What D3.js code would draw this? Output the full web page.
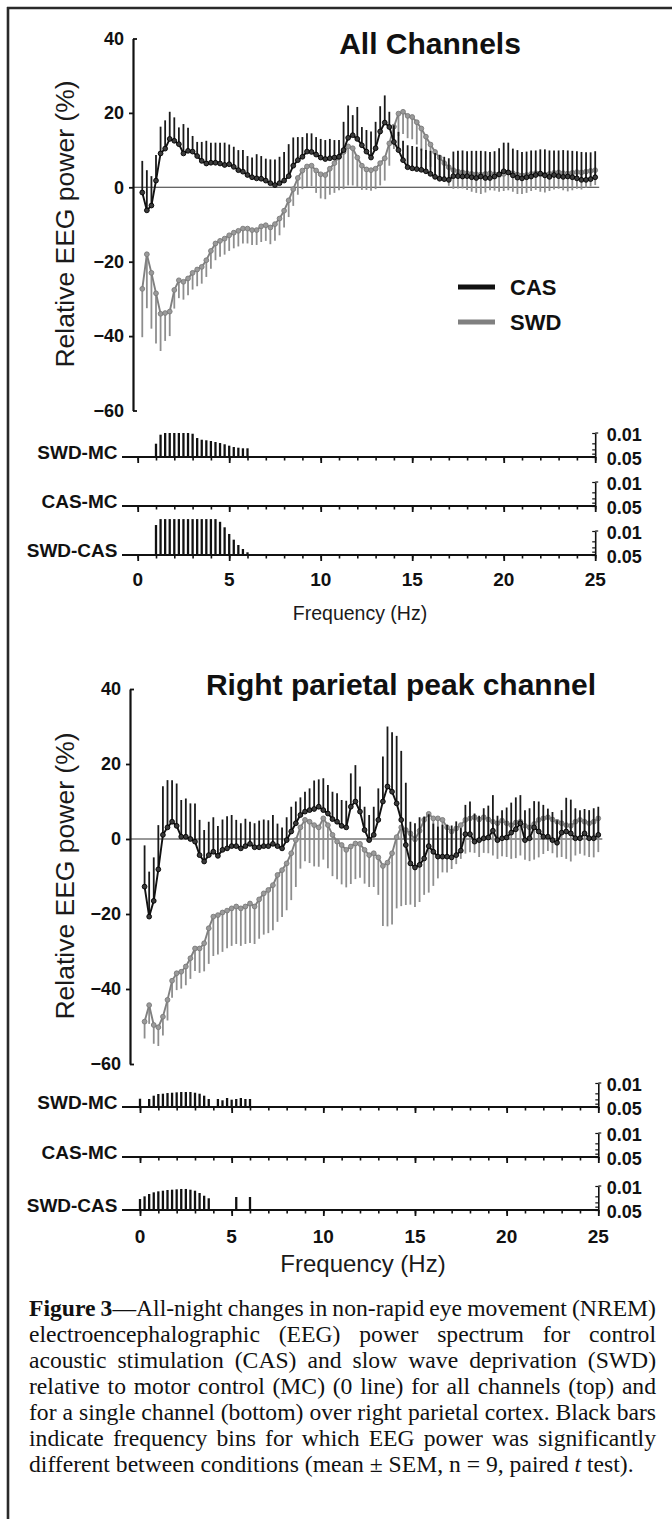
<!DOCTYPE html>
<html><head><meta charset="utf-8">
<script src="https://cdn.jsdelivr.net/npm/d3@7"></script>
<style>html,body{margin:0;padding:0;background:#fff}svg{display:block}</style>
</head><body>
<svg id="c" width="672" height="1519"></svg>
<script>
// ---------------- DATA ----------------
const freqs = [0.25,0.5,0.75,1,1.25,1.5,1.75,2,2.25,2.5,2.75,3,3.25,3.5,3.75,4,4.25,4.5,4.75,5,5.25,5.5,5.75,6,6.25,6.5,6.75,7,7.25,7.5,7.75,8,8.25,8.5,8.75,9,9.25,9.5,9.75,10,10.25,10.5,10.75,11,11.25,11.5,11.75,12,12.25,12.5,12.75,13,13.25,13.5,13.75,14,14.25,14.5,14.75,15,15.25,15.5,15.75,16,16.25,16.5,16.75,17,17.25,17.5,17.75,18,18.25,18.5,18.75,19,19.25,19.5,19.75,20,20.25,20.5,20.75,21,21.25,21.5,21.75,22,22.25,22.5,22.75,23,23.25,23.5,23.75,24,24.25,24.5,24.75,25];

// All channels
const topCASMean = [-1.4,-6.2,-4.9,1.8,9.1,10.4,13.0,12.5,11.6,9.1,9.8,9.6,8.4,7.1,6.4,6.6,6.6,6.4,6.0,6.2,5.5,4.6,4.2,3.3,2.7,2.4,2.3,1.8,1.1,0.6,1.1,1.8,3.0,5.8,7.3,8.2,9.6,9.5,8.8,8.0,7.6,7.8,8.0,8.2,10.0,13.3,14.0,13.0,11.3,9.6,8.0,10.5,15.0,17.4,16.2,12.2,10.0,7.3,5.4,5.1,4.9,4.7,4.3,3.6,2.8,2.3,2.2,2.0,3.0,3.0,2.9,3.0,2.7,2.5,2.9,2.5,2.5,2.9,3.5,4.3,4.0,3.2,2.6,2.4,2.7,2.9,3.3,3.7,3.2,2.8,3.3,3.0,2.8,2.9,2.7,2.4,2.0,2.0,2.2,2.7];
const topCASSem = [8.5,10.8,7.9,6.9,7.2,7.6,7.3,6.3,4.5,7.9,6.2,4.2,3.8,5.1,6.1,5.4,5.4,5.6,6.0,5.3,5.4,5.4,5.8,5.1,5.3,6.5,6.1,5.9,6.4,6.9,7.1,7.7,8.6,7.6,6.2,5.3,4.9,5.0,4.7,5.0,5.1,5.2,4.7,4.5,7.6,8.7,5.4,8.6,4.9,5.8,7.0,7.1,6.8,7.3,4.1,4.5,4.9,5.2,5.9,6.0,6.0,5.7,5.7,6.2,6.4,6.4,6.0,5.8,6.6,6.8,7.0,6.7,7.1,7.3,6.9,7.2,7.0,6.8,7.0,7.7,8.0,7.2,7.4,7.1,6.9,7.0,6.6,6.5,7.0,7.1,6.6,6.9,7.2,7.0,7.1,7.3,7.5,7.4,7.2,7.0];
const topSWDMean = [-27.3,-18.0,-23.0,-28.5,-34.0,-33.8,-33.4,-27.6,-25.0,-25.4,-24.5,-23.0,-22.1,-21.4,-19.6,-17.1,-15.1,-14.4,-13.8,-12.9,-12.2,-11.7,-11.1,-11.1,-11.5,-11.5,-10.5,-10.2,-10.8,-9.9,-8.4,-6.3,-3.5,-0.5,2.5,4.5,5.6,5.8,4.5,3.5,3.3,5.0,6.5,8.2,9.5,11.0,10.5,8.0,5.8,4.8,4.6,5.0,6.5,7.8,11.8,16.3,19.8,20.3,19.2,18.9,17.5,15.8,13.6,11.5,9.5,8.0,6.5,5.4,4.6,4.2,4.0,3.8,3.6,3.5,3.4,3.6,3.8,3.5,3.3,3.6,4.0,3.8,3.4,3.2,3.3,3.6,3.8,3.5,3.4,3.6,3.9,4.0,3.8,3.7,3.9,4.1,4.0,4.2,4.4,4.6];
const topSWDSem = [13,14.5,15,13.5,10,7.5,6.6,5,4.8,4.8,4.5,4.5,4.5,4.5,4.5,4.8,4.5,4.3,4.3,4.2,4.2,4.2,4.0,4.0,4.0,4.0,4.2,4.2,4.5,4.5,4.5,4.5,4.5,4.5,4.5,5.0,5.5,5.5,6,6.5,6.5,7,8,9,10,10.5,10,8,6.5,5.5,5.5,5.5,6,6,6,6,6,6,6,6,6,6,6,6,5.5,5.5,5,5,5,4.5,4.3,4.5,4.8,5.0,5.2,5.0,4.6,4.4,4.5,4.6,4.8,5.0,5.2,5.0,4.8,4.6,4.5,4.7,4.8,4.6,4.5,4.4,4.6,4.8,4.7,4.5,4.6,4.4,4.2,4.0];

// Right parietal peak channel
const botCASMean = [-12.7,-20.7,-16.5,-8.1,1.1,3.1,4.6,3.5,0.6,0.6,0.0,-0.7,-4.3,-6.0,-4.3,-3.4,-4.5,-2.9,-2.5,-1.9,-1.9,-2.5,-1.9,-1.3,-2.2,-2.2,-1.9,-1.9,-1.3,-1.9,-2.5,-0.3,2.0,4.2,6.4,7.3,7.7,8.0,8.6,7.7,6.8,5.3,4.6,3.5,3.1,8.6,10.0,7.3,2.4,-0.3,1.1,5.1,10.0,14.0,12.6,9.5,5.1,-1.6,-6.5,-7.6,-6.9,-5.2,-1.9,-3.4,-4.7,-4.7,-4.7,-4.9,-4.3,-3.1,1.3,1.3,-0.7,-0.3,0.2,0.4,2.2,-0.3,0.2,0.4,1.7,2.6,4.2,-0.3,0.2,3.1,2.0,0.6,0.6,-0.3,-1.0,1.7,2.0,1.5,0.2,0.2,1.5,0.2,0.2,1.1];
const botCASSem = [11,12,11.6,11.8,13,12.6,11.1,11.3,9.8,10.2,9.5,10.2,9.4,8.4,8.9,9.2,8.0,8.1,8.6,8.3,7.0,6.7,7.3,5.9,6.4,7.1,7.1,6.9,7.7,6.0,5.6,6.1,6.6,5.8,4.7,5.3,5.8,7.6,7.3,8.5,7.6,7.3,7.6,6.9,7.1,8.9,9.7,6.7,6.2,6.7,7.5,8.4,12,16,15.9,18,18.4,16.6,11.1,11.8,12.7,11.2,8.5,7.5,8,8.5,8.5,8.5,9,6,7.8,8.7,7.5,6.5,8,8.5,9.5,6.5,7.5,8,8,8.5,7.5,8,8,7,8,8.5,7.5,7.5,6,6,9,9,8,7.5,6.5,7.5,8,7.5];
const botSWDMean = [-48.7,-44.3,-49.6,-50.2,-47.4,-42.9,-37.8,-35.8,-35.4,-34.0,-31.8,-29.2,-29.2,-27.8,-23.8,-20.7,-20.3,-19.6,-19.1,-18.5,-18.0,-18.5,-18.0,-17.2,-18.0,-16.1,-14.5,-13.6,-12.3,-9.6,-8.3,-6.5,-3.8,-0.3,3.1,5.1,4.6,3.7,3.1,5.5,3.7,1.1,-0.7,-1.6,-2.9,-2.0,-1.2,-1.3,-2.9,-4.3,-3.8,-4.9,-7.2,-6.3,-3.8,0.5,3.1,2.4,1.5,-0.1,2.2,5.1,6.7,5.5,5.5,5.1,3.1,2.0,2.8,3.7,5.1,5.5,5.8,5.2,5.8,5.2,4.6,4.2,4.9,4.2,3.7,4.4,4.6,3.5,3.1,4.0,5.1,5.5,5.8,5.2,4.6,4.2,3.7,3.5,4.6,5.1,4.6,4.2,4.6,5.5];
const botSWDSem = [4.5,5,5,5,5,5.5,4.5,4.5,4.5,5,5.5,6,6.5,7.5,9.5,10.5,10.5,10.5,10,10,10,10,10,10.5,10,10.5,11,11.5,12,12.5,12.5,12.5,12.5,12.5,11,11,11,11,10.5,11,11.5,11,10,10.5,10,10,9.5,9,9,8.5,9,10,16,17,19,19,21,20,19,18,19,20,21,18,16,14,12,10,9.5,9,9,9,9.5,10,9.5,9,9,9.5,9.5,9,9,9.5,9,9,9,9.5,10,9.5,9,9,9.5,9,9,9.5,9,9,9,9,9.5,9];

// Significance (p-values per frequency bin)
const topSWDMC_f = [1,1.25,1.5,1.75,2,2.25,2.5,2.75,3,3.25,3.5,3.75,4,4.25,4.5,4.75,5,5.25,5.5,5.75,6];
const topSWDMC_p = [0.0205,0.0112,0.0100,0.0100,0.0100,0.0100,0.0100,0.0100,0.0105,0.0140,0.0157,0.0163,0.0171,0.0183,0.0196,0.0213,0.0234,0.0256,0.0268,0.0279,0.0279];
const topCASMC_f = [];
const topCASMC_p = [];
const topSWDCAS_f = [1,1.25,1.5,1.75,2,2.25,2.5,2.75,3,3.25,3.5,3.75,4,4.25,4.5,4.75,5,5.25,5.5,5.75,6];
const topSWDCAS_p = [0.0067,0.0045,0.0045,0.0045,0.0045,0.0045,0.0045,0.0045,0.0045,0.0045,0.0045,0.0045,0.0045,0.0045,0.0054,0.0078,0.0122,0.0179,0.0256,0.0334,0.0417];
const botSWDMC_f = [0,0.5,0.75,1,1.25,1.5,1.75,2,2.25,2.5,2.75,3,3.25,3.5,3.75,4.25,4.5,4.75,5,5.25,5.5,5.75,6];
const botSWDMC_p = [0.0287,0.0292,0.0234,0.0209,0.0205,0.0196,0.0192,0.0187,0.0183,0.0183,0.0183,0.0192,0.0205,0.0234,0.0292,0.0292,0.0319,0.0273,0.0306,0.0292,0.0273,0.0292,0.0292];
const botCASMC_f = [];
const botCASMC_p = [];
const botSWDCAS_f = [0,0.25,0.5,0.75,1,1.25,1.5,1.75,2,2.25,2.5,2.75,3,3.25,3.5,3.75,5.25,6];
const botSWDCAS_p = [0.0239,0.0200,0.0171,0.0153,0.0143,0.0137,0.0131,0.0128,0.0125,0.0122,0.0122,0.0128,0.0137,0.0160,0.0192,0.0228,0.0209,0.0209];

const yTicks = [40,20,0,-20,-40,-60];
const xTicks = [0,5,10,15,20,25];
const sigLabels = ["SWD-MC","CAS-MC","SWD-CAS"];
const pLabels = ["0.01","0.05"];
const legendLabels = ["CAS","SWD"];
const titles = ["All Channels","Right parietal peak channel"];
const yLabel = "Relative EEG power (%)";
const xLabel = "Frequency (Hz)";
const captionLines = [
 "**Figure 3**\u2014All-night changes in non-rapid eye movement (NREM)",
 "electroencephalographic (EEG) power spectrum for control",
 "acoustic stimulation (CAS) and slow wave deprivation (SWD)",
 "relative to motor control (MC) (0 line) for all channels (top) and",
 "for a single channel (bottom) over right parietal cortex. Black bars",
 "indicate frequency bins for which EEG power was significantly",
 "different between conditions (mean \u00b1 SEM, n = 9, paired _t_ test)."
];

// ---------------- DRAW ----------------
const svg = d3.select("#c");
const SANS = "'Liberation Sans', Arial, Helvetica, sans-serif";
const SERIF = "'Liberation Serif', 'Times New Roman', Times, serif";
const BLK = "#111";
const GRY = "#808080";
const GRYBAR = "#8e8e8e";
const fmt = d => d < 0 ? "\u2212" + Math.abs(d) : String(d);

// frame
svg.append("line").attr("x1",8).attr("x2",8).attr("y1",7).attr("y2",1519).attr("stroke","#2a2a2a").attr("stroke-width",2.6);
svg.append("line").attr("x1",7).attr("x2",672).attr("y1",8).attr("y2",8).attr("stroke","#2a2a2a").attr("stroke-width",2.6);

const charts = [
 { title:titles[0], titleX:430, titleY:54, xRange:[137.7,595.2], yRange:[410.5,38.5], axisX:133,
   cas:topCASMean, casSem:topCASSem, swd:topSWDMean, swdSem:topSWDSem, ylabCY:224,
   bases:[457,506,555], sig:[[topSWDMC_f,topSWDMC_p],[topCASMC_f,topCASMC_p],[topSWDCAS_f,topSWDCAS_p]],
   tickDy:31, xlabX:360, xlabY:620, xlabSize:19.5, legend:true },
 { title:titles[1], titleX:401, titleY:695, xRange:[140,598.3], yRange:[1064,689], axisX:130,
   cas:botCASMean, casSem:botCASSem, swd:botSWDMean, swdSem:botSWDSem, ylabCY:876,
   bases:[1107,1157,1210], sig:[[botSWDMC_f,botSWDMC_p],[botCASMC_f,botCASMC_p],[botSWDCAS_f,botSWDCAS_p]],
   tickDy:33, xlabX:363, xlabY:1272, xlabSize:24, legend:false }
];

charts.forEach(c => {
  const g = svg.append("g");
  const x = d3.scaleLinear().domain([0,25]).range(c.xRange);
  const y = d3.scaleLinear().domain([-60,40]).range(c.yRange);

  // zero line
  g.append("line").attr("x1",c.axisX).attr("x2",x(25)+4).attr("y1",y(0)).attr("y2",y(0))
    .attr("stroke","#333").attr("stroke-width",1.1);

  const series = [
    {m:c.swd, s:c.swdSem, dir:-1, line:GRY, bar:GRYBAR, fill:"#9a9a9a", stroke:"#7a7a7a"},
    {m:c.cas, s:c.casSem, dir:1, line:BLK, bar:"#1a1a1a", fill:"#3a3a3a", stroke:"#000"}
  ];
  series.forEach(sr => {
    const pts = freqs.map((f,i) => ({f, m:sr.m[i], s:sr.s[i]}));
    g.append("g").selectAll("line").data(pts).join("line")
      .attr("x1",d=>x(d.f)).attr("x2",d=>x(d.f))
      .attr("y1",d=>y(d.m)).attr("y2",d=>y(d.m + sr.dir*d.s))
      .attr("stroke",sr.bar).attr("stroke-width",1.8);
    g.append("path").datum(pts)
      .attr("d", d3.line().x(d=>x(d.f)).y(d=>y(d.m)))
      .attr("fill","none").attr("stroke",sr.line).attr("stroke-width",1.9);
    g.append("g").selectAll("circle").data(pts).join("circle")
      .attr("cx",d=>x(d.f)).attr("cy",d=>y(d.m)).attr("r",2.4)
      .attr("fill",sr.fill).attr("stroke",sr.stroke).attr("stroke-width",0.9);
  });

  // y axis
  const ax = g.append("g").attr("transform",`translate(${c.axisX},0)`)
    .call(d3.axisLeft(y).tickValues(yTicks).tickSize(4).tickSizeOuter(0).tickPadding(5).tickFormat(fmt));
  ax.select(".domain").attr("stroke",BLK).attr("stroke-width",2.2);
  ax.selectAll(".tick line").attr("stroke",BLK).attr("stroke-width",1.8);
  ax.selectAll(".tick").filter(d => d === yTicks[0] || d === yTicks[yTicks.length-1])
    .select("line").attr("x2",4);
  ax.selectAll(".tick text").attr("font-family",SANS).attr("font-weight","bold")
    .attr("font-size",18).attr("fill",BLK);

  // title
  g.append("text").attr("x",c.titleX).attr("y",c.titleY).attr("text-anchor","middle")
    .attr("font-family",SANS).attr("font-weight","bold").attr("font-size",30).attr("fill",BLK)
    .text(c.title);
  // y label
  g.append("text").attr("transform",`translate(74,${c.ylabCY}) rotate(-90)`).attr("text-anchor","middle")
    .attr("font-family",SANS).attr("font-size",26.5).attr("fill","#1a1a1a").text(yLabel);

  // legend
  if (c.legend) {
    const ly = [287, 322];
    const lc = [BLK, GRY];
    legendLabels.forEach((lab,i) => {
      g.append("line").attr("x1",458).attr("x2",495).attr("y1",ly[i]).attr("y2",ly[i])
        .attr("stroke",lc[i]).attr("stroke-width",5);
      g.append("text").attr("x",510).attr("y",ly[i]+8).attr("font-family",SANS).attr("font-weight","bold")
        .attr("font-size",22).attr("fill",BLK).text(lab);
    });
  }

  // significance panels
  c.bases.forEach((base,i) => {
    const py = d3.scaleLog().domain([0.05,0.01]).range([base, base-24]);
    const [fs, ps] = c.sig[i];
    g.append("g").selectAll("line").data(fs.map((f,j)=>({f, p:ps[j]}))).join("line")
      .attr("x1",d=>x(d.f)).attr("x2",d=>x(d.f)).attr("y1",base).attr("y2",d=>py(d.p))
      .attr("stroke",BLK).attr("stroke-width",2.3);
    g.append("line").attr("x1",122).attr("x2",x(25)).attr("y1",base).attr("y2",base)
      .attr("stroke",BLK).attr("stroke-width",2.2);
    const minor = g.append("g").attr("transform",`translate(0,${base})`)
      .call(d3.axisBottom(x).tickValues(d3.range(0,26,1)).tickSize(3.5).tickFormat(""));
    minor.select(".domain").remove();
    minor.selectAll(".tick line").attr("stroke",BLK).attr("stroke-width",1.6);
    const major = g.append("g").attr("transform",`translate(0,${base})`)
      .call(d3.axisBottom(x).tickValues(xTicks).tickSize(6).tickFormat(""));
    major.select(".domain").remove();
    major.selectAll(".tick line").attr("stroke",BLK).attr("stroke-width",1.8);
    // label
    g.append("text").attr("x",117.5).attr("y",base+2).attr("text-anchor","end")
      .attr("font-family",SANS).attr("font-weight","bold").attr("font-size",19).attr("fill",BLK)
      .text(sigLabels[i]);
    // p bracket
    const br = g.append("g").attr("transform",`translate(${x(25)},0)`)
      .call(d3.axisLeft(py).tickValues([0.05,0.04,0.03,0.02,0.01]).tickSize(3).tickSizeOuter(0).tickFormat(""));
    br.select(".domain").attr("stroke",BLK).attr("stroke-width",1.6);
    br.selectAll(".tick line").attr("stroke",BLK).attr("stroke-width",1.2);
    g.append("line").attr("x1",x(25)).attr("x2",x(25)+3).attr("y1",py(0.01)).attr("y2",py(0.01))
      .attr("stroke",BLK).attr("stroke-width",1.2);
    g.append("text").attr("x",606.7).attr("y",base-16).attr("font-family",SANS).attr("font-weight","bold")
      .attr("font-size",18).attr("fill",BLK).text(pLabels[0]);
    g.append("text").attr("x",606.7).attr("y",base+7.5).attr("font-family",SANS).attr("font-weight","bold")
      .attr("font-size",18).attr("fill",BLK).text(pLabels[1]);
  });

  // x tick labels under last panel
  const lastBase = c.bases[c.bases.length-1];
  g.append("g").selectAll("text").data(xTicks).join("text")
    .attr("x",d=>x(d)).attr("y",lastBase + c.tickDy).attr("text-anchor","middle")
    .attr("font-family",SANS).attr("font-weight","bold").attr("font-size",19).attr("fill",BLK)
    .text(d=>d);
  g.append("text").attr("x",c.xlabX).attr("y",c.xlabY).attr("text-anchor","middle")
    .attr("font-family",SANS).attr("font-size",c.xlabSize).attr("fill","#1a1a1a").text(xLabel);
});

// ---------------- CAPTION ----------------
function parseLine(s, st) {
  const words = []; let runs = []; let buf = "";
  const flush = () => { if (buf) { runs.push({t:buf, b:st.b, i:st.i}); buf = ""; } };
  let k = 0;
  while (k < s.length) {
    if (s.startsWith("**", k)) { flush(); st.b = !st.b; k += 2; continue; }
    if (s[k] === "_") { flush(); st.i = !st.i; k++; continue; }
    if (s[k] === " ") { flush(); if (runs.length) words.push(runs); runs = []; k++; continue; }
    buf += s[k]; k++;
  }
  flush(); if (runs.length) words.push(runs);
  return words;
}
const capG = svg.append("g");
function makeWord(runs, size) {
  const t = capG.append("text").attr("font-family",SERIF).attr("font-size",size).attr("fill","#111");
  runs.forEach(r => {
    t.append("tspan").attr("font-weight", r.b ? "bold" : "normal")
      .attr("font-style", r.i ? "italic" : "normal").text(r.t);
  });
  return t;
}
const st = {b:false, i:false};
const parsed = captionLines.map(l => parseLine(l, st));
// size so that the last (unjustified) line spans 605 px
const s0 = 23;
let tw = 0;
const lastWords = parsed[parsed.length-1];
lastWords.forEach(w => { const t = makeWord(w, s0); tw += t.node().getComputedTextLength(); t.remove(); });
tw += (lastWords.length - 1) * 0.25 * s0;
const capSize = s0 * 605 / tw;
const X0 = 29, W = 627;
parsed.forEach((words, li) => {
  const yy = 1316 + li * 26;
  const els = words.map(w => makeWord(w, capSize));
  const widths = els.map(e => e.node().getComputedTextLength());
  const sum = d3.sum(widths);
  const last = li === parsed.length - 1;
  const gap = last ? 0.25 * capSize : (W - sum) / (words.length - 1);
  let cx = X0;
  els.forEach((e, j) => { e.attr("x", cx).attr("y", yy); cx += widths[j] + gap; });
});
</script>
</body></html>
